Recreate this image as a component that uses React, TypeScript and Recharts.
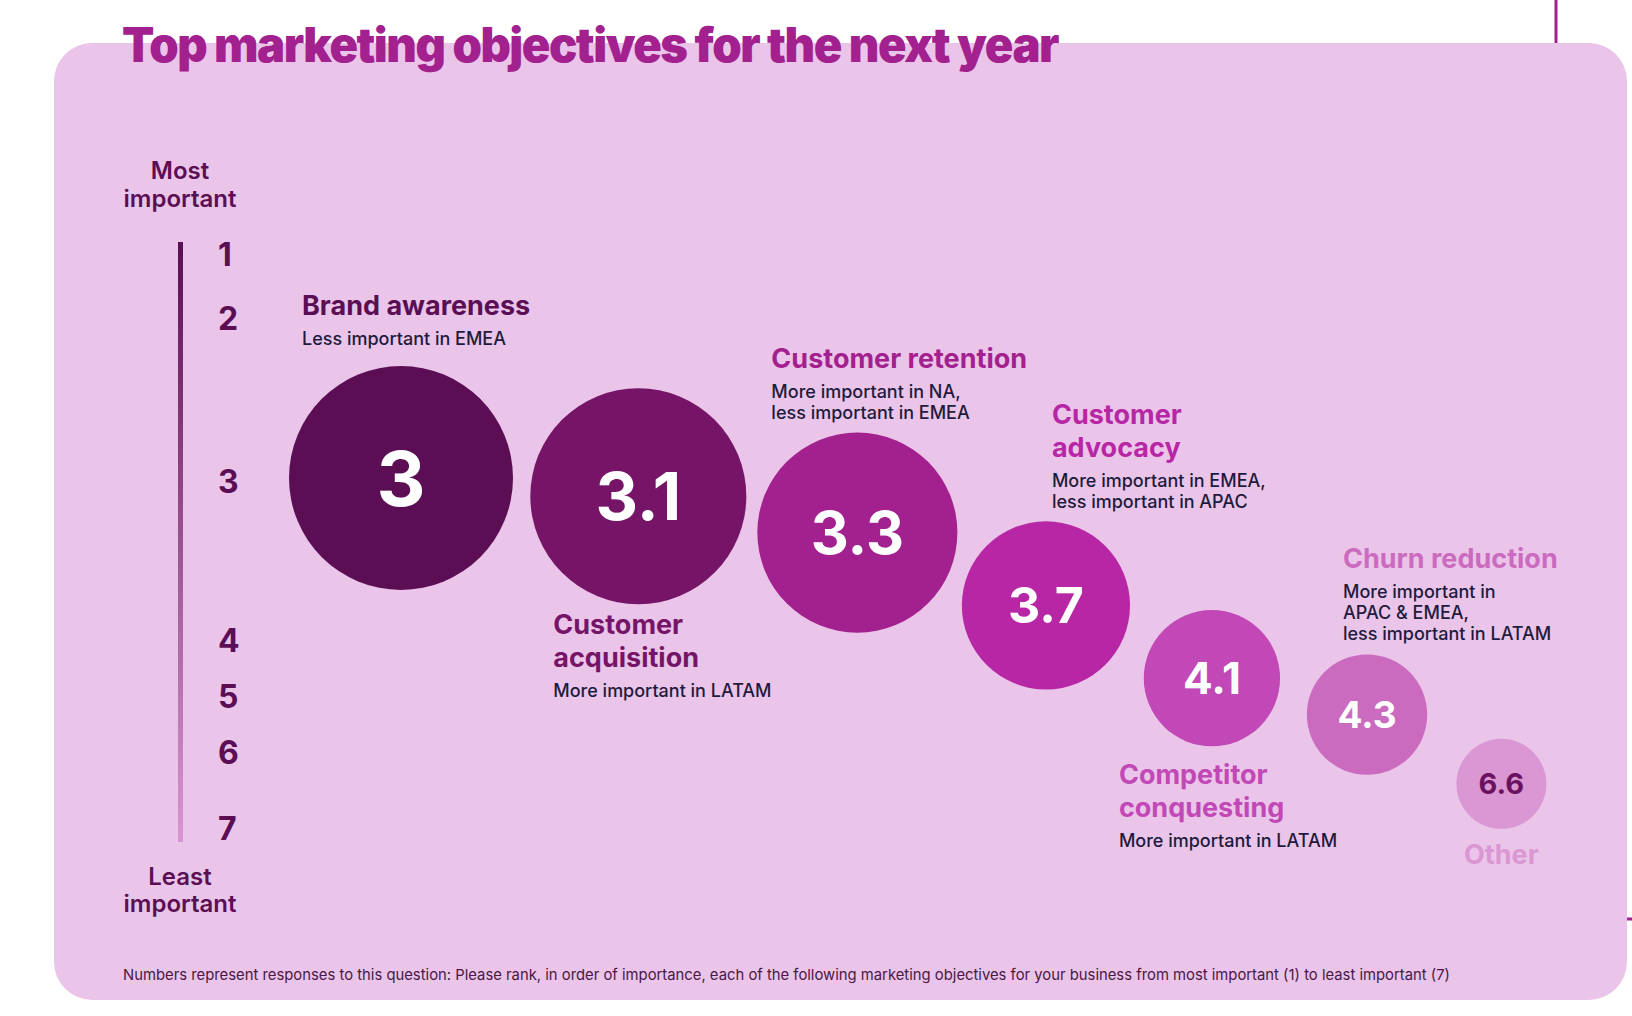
import React from "react";
import { ScatterChart, Scatter, XAxis, YAxis, ZAxis } from "recharts";

// ---- data
const OBJECTIVES = [
  "Brand awareness",
  "Customer\nacquisition",
  "Customer retention",
  "Customer\nadvocacy",
  "Competitor\nconquesting",
  "Churn reduction",
  "Other",
];
const AVG_RANK = [3, 3.1, 3.3, 3.7, 4.1, 4.3, 6.6];
const REGION_NOTES = [
  "Less important in EMEA",
  "More important in LATAM",
  "More important in NA,\nless important in EMEA",
  "More important in EMEA,\nless important in APAC",
  "More important in LATAM",
  "More important in\nAPAC & EMEA,\nless important in LATAM",
  "",
];
const RANK_TICKS = [1, 2, 3, 4, 5, 6, 7];
const FOOTNOTE =
  "Numbers represent responses to this question: Please rank, in order of importance, each of the following marketing objectives for your business from most important (1) to least important (7)";

// ---- look & layout
const BUBBLE_COLORS = ["#5C0E55", "#761568", "#A3218F", "#B727A5", "#C148B6", "#CB6BC0", "#DA97D3"];
const VALUE_FONT = [76, 66, 59, 50, 44, 37, 29];
// first title line, relative to the bubble centre
const LABEL_AT = [
  { dx: -99, dy: -173 },
  { dx: -85, dy: 128 },
  { dx: -86, dy: -174 },
  { dx: 6, dy: -191 },
  { dx: -93, dy: 96 },
  { dx: -24, dy: -156 },
  { dx: 0, dy: 71 },
];
// the rank guide on the left is only a guide, not to scale
const RANK_TICK_Y = [254, 318, 481, 640, 696, 752, 828];

const W = 1632;
const H = 1016;
const MARGIN = { top: 114, right: 0, bottom: 83, left: 0 };
const Y_DOMAIN: [number, number] = [1, 5.5];
const BREAK_AT = 4.5; // "Other" is drawn past an axis break
const BREAK_SQUEEZE = 0.086;
const R_RANGE: [number, number] = [112, 45];
const FIRST_X = 401;
const GAPS = [0, 18, 14, 18, 29, 31, 46];

const squeeze = (v: number) => (v <= BREAK_AT ? v : BREAK_AT + (v - BREAK_AT) * BREAK_SQUEEZE);
const plotRank = AVG_RANK.map(squeeze);
const zDomain: [number, number] = [Math.min(...plotRank), Math.max(...plotRank)];
const plotH = H - MARGIN.top - MARGIN.bottom;
const yPx = (p: number) => MARGIN.top + ((p - Y_DOMAIN[0]) / (Y_DOMAIN[1] - Y_DOMAIN[0])) * plotH;
const rPx = (p: number) =>
  R_RANGE[0] + ((p - zDomain[0]) / (zDomain[1] - zDomain[0])) * (R_RANGE[1] - R_RANGE[0]);

// pack the bubbles side by side, each one a set gap from the previous
const packedX: number[] = [];
plotRank.forEach((p, i) => {
  if (i === 0) {
    packedX.push(FIRST_X);
    return;
  }
  const q = plotRank[i - 1];
  const dist = rPx(q) + rPx(p) + GAPS[i];
  const dy = yPx(p) - yPx(q);
  packedX.push(packedX[i - 1] + Math.sqrt(dist * dist - dy * dy));
});

const chartData = OBJECTIVES.map((name, i) => ({
  idx: i,
  name,
  rank: AVG_RANK[i],
  plot: plotRank[i],
  pos: packedX[i],
  note: REGION_NOTES[i],
}));

const NOTE_COLOR = "#1E1B3E";
const DARK = "#5C0E55";

function Bubble(props: any) {
  const { cx, cy, size, width, payload } = props;
  const i = payload.idx;
  const r = typeof size === "number" ? size : width / 2;
  const color = BUBBLE_COLORS[i];
  const isOther = i === OBJECTIVES.length - 1;
  const at = LABEL_AT[i];
  const titleLines: string[] = payload.name.split("\n");
  const noteLines: string[] = payload.note ? payload.note.split("\n") : [];
  const tx = cx + at.dx;
  const ty = cy + at.dy;
  const noteY = ty + titleLines.length * 33;

  return (
    <g>
      <circle cx={cx} cy={cy} r={r} fill={color} />
      <text
        x={cx}
        y={cy}
        textAnchor="middle"
        dominantBaseline="central"
        fontSize={VALUE_FONT[i]}
        fontWeight={700}
        fill={isOther ? "#6A1260" : "#FFFFFF"}
      >
        {String(payload.rank)}
      </text>
      {titleLines.map((line, k) => (
        <text
          key={"t" + k}
          x={isOther ? cx : tx}
          y={ty + k * 33}
          textAnchor={isOther ? "middle" : "start"}
          dominantBaseline="central"
          fontSize={27}
          fontWeight={700}
          fill={color}
        >
          {line}
        </text>
      ))}
      {noteLines.map((line, k) => (
        <text
          key={"n" + k}
          x={tx}
          y={noteY + k * 21}
          dominantBaseline="central"
          fontSize={18}
          fontWeight={500}
          fill={NOTE_COLOR}
        >
          {line}
        </text>
      ))}
    </g>
  );
}

export default function App() {
  return (
    <div
      style={{
        position: "absolute",
        left: 0,
        top: 0,
        width: W,
        height: H,
        background: "#FFFFFF",
        fontFamily: "Inter, 'Noto Sans', sans-serif",
        overflow: "hidden",
      }}
    >
      {/* card */}
      <div
        style={{
          position: "absolute",
          left: 54,
          top: 43,
          width: 1573,
          height: 957,
          borderRadius: 38,
          background: "#EBC5E9",
        }}
      />
      <svg width={W} height={H} style={{ position: "absolute", left: 0, top: 0 }}>
        <line x1={1556} y1={0} x2={1556} y2={43} stroke="#A3208F" strokeWidth={3} />
        <line x1={1627} y1={919} x2={1632} y2={919} stroke="#A3208F" strokeWidth={3} />
        <text
          x={122}
          y={62}
          fontSize={48}
          fontWeight={900}
          fill="#A3208F"
          letterSpacing={-1.5}
          textLength={936}
          lengthAdjust="spacingAndGlyphs"
        >
          Top marketing objectives for the next year
        </text>

        {/* rank guide */}
        <defs>
          <linearGradient id="rankGrad" x1="0" y1="0" x2="0" y2="1">
            <stop offset="0%" stopColor="#5C0E55" />
            <stop offset="100%" stopColor="#D995D1" />
          </linearGradient>
        </defs>
        <text x={180} y={179} textAnchor="middle" fontSize={24} fontWeight={600} fill={DARK}>
          Most
        </text>
        <text x={180} y={207} textAnchor="middle" fontSize={24} fontWeight={600} fill={DARK}>
          important
        </text>
        <rect x={178} y={242} width={5} height={600} fill="url(#rankGrad)" />
        {RANK_TICKS.map((t, k) => (
          <text
            key={t}
            x={218}
            y={RANK_TICK_Y[k]}
            dominantBaseline="central"
            fontSize={32}
            fontWeight={700}
            fill={DARK}
          >
            {t}
          </text>
        ))}
        <text x={180} y={885} textAnchor="middle" fontSize={24} fontWeight={600} fill={DARK}>
          Least
        </text>
        <text x={180} y={912} textAnchor="middle" fontSize={24} fontWeight={600} fill={DARK}>
          important
        </text>

        <text x={123} y={980} fontSize={15} fill="#4A1746" textLength={1327} lengthAdjust="spacingAndGlyphs">
          {FOOTNOTE}
        </text>
      </svg>

      <div style={{ position: "absolute", left: 0, top: 0 }}>
        <ScatterChart width={W} height={H} margin={MARGIN}>
          <XAxis type="number" dataKey="pos" domain={[0, W]} allowDataOverflow hide />
          <YAxis type="number" dataKey="plot" domain={Y_DOMAIN} reversed allowDataOverflow hide />
          <ZAxis type="number" dataKey="plot" domain={zDomain} range={R_RANGE} />
          <Scatter data={chartData} shape={Bubble} isAnimationActive={false} />
        </ScatterChart>
      </div>
    </div>
  );
}
